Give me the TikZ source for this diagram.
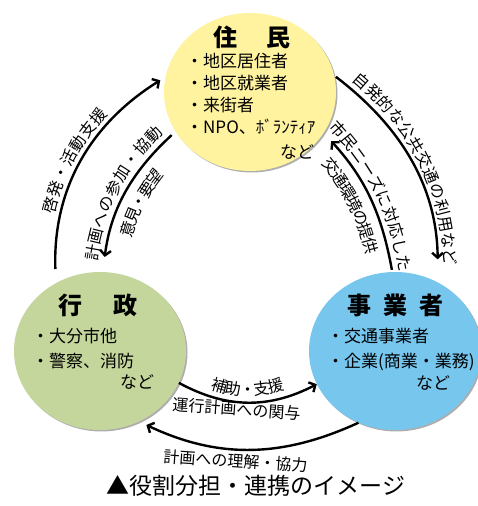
\documentclass[tikz,border=0pt]{standalone}
\usepackage{fontspec}
\setmainfont{Noto Sans CJK JP}
\usetikzlibrary{shapes.geometric,arrows.meta,decorations.text,shadows}
\definecolor{Camarelo}{RGB}{255,243,160}
\definecolor{Cverde}{RGB}{196,214,155}
\definecolor{Cceu}{RGB}{118,198,238}
\newcommand\lblfont{\fontsize{16}{16}\selectfont}

\begin{document}
\begin{tikzpicture}[x=1pt,y=1pt,
    circ/.style={ellipse, minimum width=172pt, minimum height=158pt, inner sep=0pt,
      drop shadow={shadow xshift=1.5pt, shadow yshift=-1.5pt, fill=black!70, opacity=.45}},
    head/.style={font=\fontsize{24}{24}\selectfont\bfseries},
    item/.style={font=\fontsize{17}{22}\selectfont, align=left, anchor=north west, inner sep=0pt},
    item2/.style={item, font=\fontsize{17}{25}\selectfont},
    nado/.style={font=\fontsize{17}{17}\selectfont, inner sep=0pt},
    lbl/.style={font=\lblfont, inner sep=0pt},
    arw/.style={line width=2.4pt, -{Straight Barb[length=5pt,width=11pt]}},
    arwr/.style={line width=2.4pt, {Straight Barb[length=5pt,width=11pt]}-},
    textL/.style={postaction={decorate, decoration={text along path, text align=center,
      raise=7pt, text={|\lblfont|#1}}}},
    textR/.style={postaction={decorate, decoration={text along path, text align=center,
      raise=-22pt, text={|\lblfont|#1}}}}]
  \useasboundingbox (0,0) rectangle (477,506);
  % circulos
  \node[circ, fill=Camarelo] (yel) at (250,414) {};
  \node[circ, fill=Cverde] (grn) at (100,155) {};
  \node[circ, fill=Cceu] (blu) at (395,155) {};
  % 住民
  \node[head] (yelh) at (252,469) {住\hspace{1.2em}民};
  \node[item] (yeli) at (186,453) {・地区居住者\\・地区就業者\\・来街者\\・NPO、ﾎﾞﾗﾝﾃｨｱ};
  \node[nado] (yeln) at (297,354) {など};
  % 行政
  \node[head] (grnh) at (98,201) {行\hspace{1.3em}政};
  \node[item2] (grni) at (32,178) {・大分市他\\・警察、消防};
  \node[nado] (grnn) at (137,124) {など};
  % 事業者
  \node[head] (bluh) at (395,201) {事\hspace{0.5em}業\hspace{0.5em}者};
  \node[item2] (blui) at (327,178) {・交通事業者\\・企業(商業・業務)};
  \node[nado] (blun) at (433,123) {など};
  % setas
  \draw[arw, shorten <=14pt, shorten >=6pt, textL={啓発・活動支援}]
    (grn.123) to[bend left=30] (yel.170);
  \draw[arwr, shorten <=15pt, shorten >=5pt, textL={計画への参加・協動}, textR={意見・要望}]
    (grn.88) to[bend left=20] (yel.208);
  \draw[arw, shorten <=2pt, shorten >=23pt, textL={自発的な公共交通の利用など}]
    (yel.11) to[bend left=26] (blu.58);
  \draw[arwr, shorten <=11pt, shorten >=2pt, textL={市民ニーズに対応した}, textR={交通環境の提供}]
    (yel.331) to[bend left=16] (blu.92);
  \draw[arw, textL={補助・支援}] (grn.338) to[bend right=28] (blu.203);
  \draw[arw, shorten >=8pt] (blu.243) to[bend left=25] (grn.299);
  % rotulos soltos
  \node[lbl, rotate=-4] (l5) at (237,97) {運行計画への関与};
  \node[lbl, rotate=-4] (l6) at (236,45) {計画への理解・協力};
  % legenda
  \node[font=\fontsize{23}{23}\selectfont] (ttl) at (256,20) {▲役割分担・連携のイメージ};
\end{tikzpicture}
\end{document}
